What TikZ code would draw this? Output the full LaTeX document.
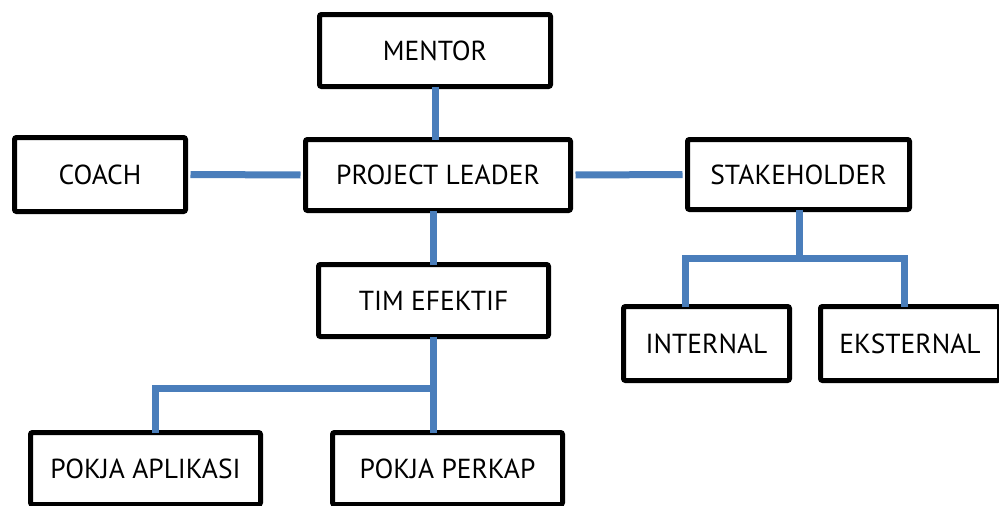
\documentclass[tikz,border=0pt]{standalone}
\usepackage{fontspec}
\setmainfont{PT Sans}
\definecolor{linkblue}{HTML}{4A7EBB}
\begin{document}
\begin{tikzpicture}[x=1pt,y=-1pt,
  box/.style={draw=black,line width=5pt,rounded corners=2pt,fill=white,inner sep=0pt,
    font=\fontsize{27.5}{32}\selectfont},
  link/.style={draw=linkblue,line width=7pt}]
\useasboundingbox (0,0) rectangle (999,506);
\clip (0,0) rectangle (999,506);
% nodes
\node[box,minimum width=231pt,minimum height=72pt] (m) at (435,50.5) {MENTOR};
\node[box,minimum width=265pt,minimum height=71pt] (pl) at (438,175) {PROJECT LEADER};
\node[box,minimum width=171pt,minimum height=74pt] (c) at (100,174.5) {COACH};
\node[box,minimum width=222pt,minimum height=70pt] (sh) at (798.5,174.5) {STAKEHOLDER};
\node[box,minimum width=230pt,minimum height=72pt] (tim) at (433.5,300.5) {TIM EFEKTIF};
\node[box,minimum width=166pt,minimum height=74pt] (int) at (706.5,343.5) {INTERNAL};
\node[box,minimum width=179pt,minimum height=74pt] (eks) at (910,343.5) {EKSTERNAL};
\node[box,minimum width=230pt,minimum height=72pt] (pa) at (145.5,468.5) {POKJA APLIKASI};
\node[box,minimum width=230pt,minimum height=72pt] (pp) at (447.5,468.5) {POKJA PERKAP};
% junctions
\coordinate (j1) at (433,388);
\coordinate (j2) at (799,258);
% connectors
\draw[link] ([yshift=2.5pt]m.south) -- ([yshift=-2.5pt]m.south |- pl.north);
\draw[link] ([xshift=2.5pt]c.east) -- ([xshift=-2.5pt]pl.west);
\draw[link] ([xshift=2.5pt]pl.east) -- ([xshift=-2.5pt]sh.west);
\draw[link] ([yshift=-2.5pt]tim.north) -- ([yshift=2.5pt]tim.north |- pl.south);
\draw[link] ([yshift=2.5pt]tim.south -| j1) -- ([yshift=-2.5pt]j1 |- pp.north);
\draw[link] (j1) -| ([xshift=10pt,yshift=-2.5pt]pa.north);
\draw[link] ([yshift=2.5pt]sh.south -| j2) -- ([yshift=3.5pt]j2);
\draw[link] ([xshift=-21.5pt,yshift=-2.5pt]int.north) |- (j2) -| ([xshift=-6pt,yshift=-2.5pt]eks.north);
\end{tikzpicture}
\end{document}
